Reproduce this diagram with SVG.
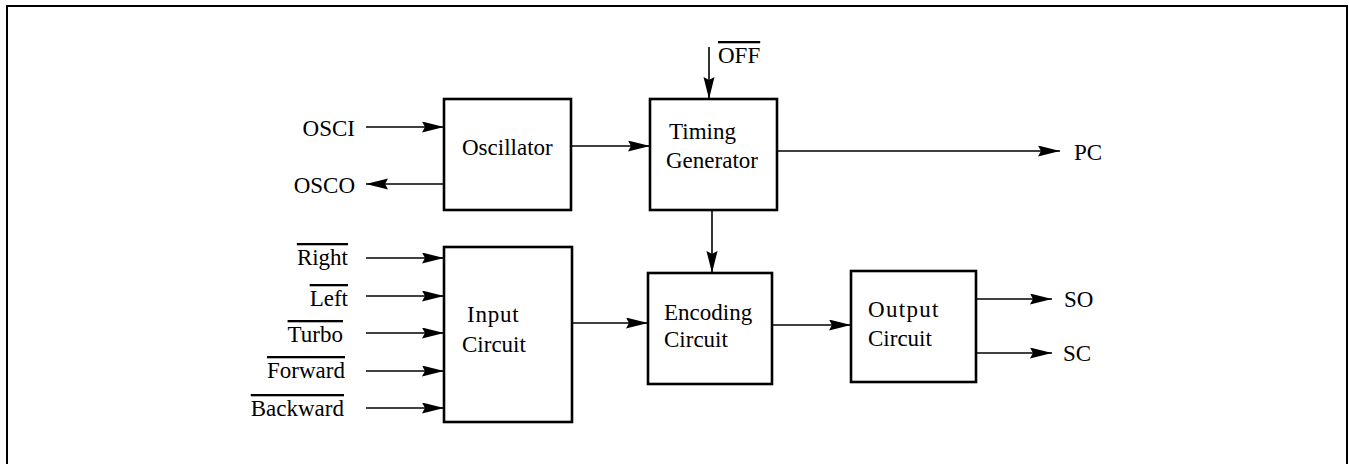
<svg xmlns="http://www.w3.org/2000/svg" width="1349" height="464" viewBox="0 0 1349 464">
<style>
text{font-family:"Liberation Serif","Times New Roman",serif;font-size:23px;fill:#000}
.box{fill:#fff;stroke:#000;stroke-width:2.6}
.c{stroke:#000;stroke-width:1.6;fill:none;marker-end:url(#ah)}
.ov{text-decoration:overline}
</style>
<defs>
<marker id="ah" markerUnits="userSpaceOnUse" markerWidth="23" markerHeight="12" refX="22" refY="5.5" orient="auto">
<path d="M0,0 L22,5.5 L0,11 L3,5.5 z" fill="#000"/>
</marker>
</defs>
<rect x="7" y="6" width="1340" height="470" fill="#fff" stroke="#000" stroke-width="2"/>
<g id="connectors">
<line class="c" x1="366" y1="127" x2="444" y2="127"/>
<line class="c" x1="444" y1="184" x2="366" y2="184"/>
<line class="c" x1="571" y1="146" x2="650" y2="146"/>
<line class="c" x1="709" y1="47" x2="709" y2="99"/>
<line class="c" x1="777" y1="151" x2="1060" y2="151"/>
<line class="c" x1="712" y1="210" x2="712" y2="273"/>
<line class="c" x1="366" y1="258" x2="444" y2="258"/>
<line class="c" x1="366" y1="296" x2="444" y2="296"/>
<line class="c" x1="366" y1="333" x2="444" y2="333"/>
<line class="c" x1="366" y1="371" x2="444" y2="371"/>
<line class="c" x1="366" y1="408" x2="444" y2="408"/>
<line class="c" x1="572" y1="323" x2="648" y2="323"/>
<line class="c" x1="772" y1="325" x2="851" y2="325"/>
<line class="c" x1="976" y1="299" x2="1052" y2="299"/>
<line class="c" x1="976" y1="353" x2="1052" y2="353"/>
</g>
<g id="labels">
<text x="355" y="136" text-anchor="end">OSCI</text>
<text x="355" y="193" text-anchor="end">OSCO</text>
<text x="718" y="63" class="ov">OFF</text>
<text x="1074" y="160">PC</text>
<text x="348" y="265" text-anchor="end" class="ov">Right</text>
<text x="348" y="306" text-anchor="end" class="ov">Left</text>
<text x="343" y="342" text-anchor="end" class="ov">Turbo</text>
<text x="345" y="378" text-anchor="end" class="ov">Forward</text>
<text x="344" y="416" text-anchor="end" class="ov">Backward</text>
<text x="1064" y="307">SO</text>
<text x="1063" y="361">SC</text>
</g>
<g id="oscillator">
<rect class="box" x="444" y="99" width="127" height="111"/>
<text x="462" y="155">Oscillator</text>
</g>
<g id="timing-generator">
<rect class="box" x="650" y="99" width="127" height="111"/>
<text x="669" y="139">Timing</text>
<text x="666" y="168">Generator</text>
</g>
<g id="input-circuit">
<rect class="box" x="444" y="247" width="128" height="175"/>
<text x="467" y="322" letter-spacing="0.8">Input</text>
<text x="462" y="352">Circuit</text>
</g>
<g id="encoding-circuit">
<rect class="box" x="648" y="273" width="124" height="111"/>
<text x="664" y="320">Encoding</text>
<text x="664" y="347">Circuit</text>
</g>
<g id="output-circuit">
<rect class="box" x="851" y="271" width="125" height="111"/>
<text x="868" y="317" letter-spacing="1.3">Output</text>
<text x="868" y="346">Circuit</text>
</g>
</svg>
